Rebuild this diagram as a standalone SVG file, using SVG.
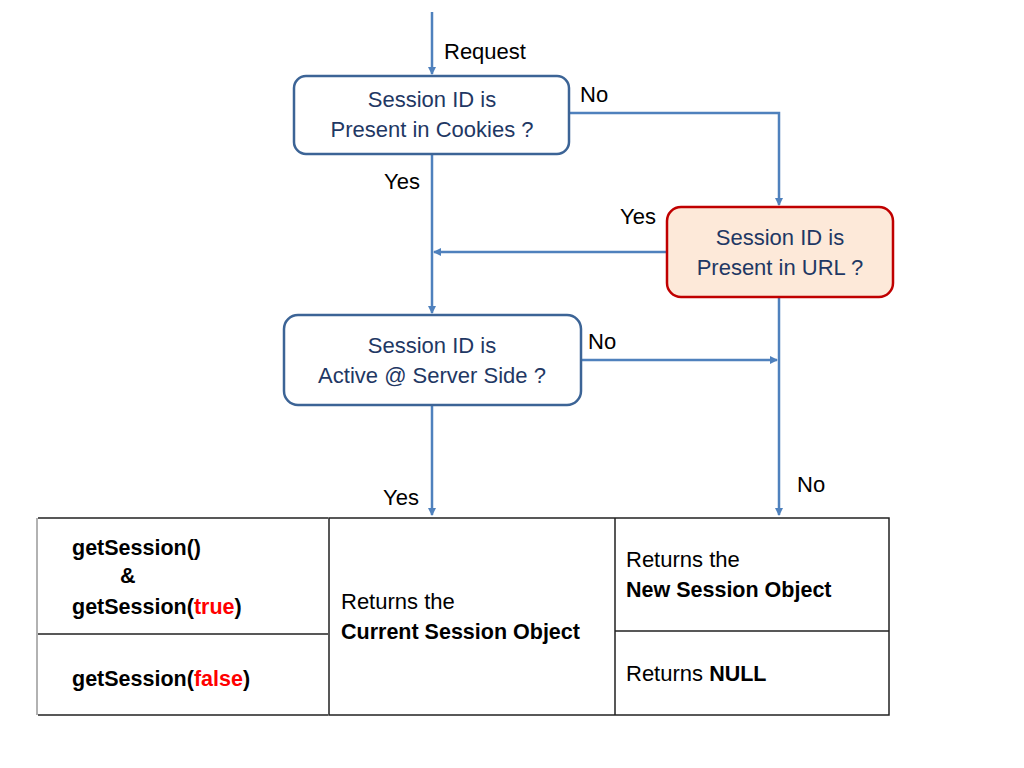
<svg xmlns="http://www.w3.org/2000/svg" width="1024" height="768" viewBox="0 0 1024 768">
<defs>
<marker id="arr" markerWidth="10" markerHeight="10" refX="7" refY="4" orient="auto" markerUnits="userSpaceOnUse">
<path d="M0,0 L8,4 L0,8 Z" fill="#4f81bd"/>
</marker>
<style>
text{font-family:"Liberation Sans",Arial,sans-serif;font-size:22px;}
.nt{fill:#1f3864;text-anchor:middle;}
.lb{fill:#000;}
.b{font-weight:bold;font-size:21.5px;}
.red{fill:#ff0000;}
.node{fill:#fff;stroke:#3c6496;stroke-width:2.5;}
.conn{fill:none;stroke:#4f81bd;stroke-width:2.5;}
.tbl{fill:none;stroke:#222;stroke-width:1.5;}
</style>
</defs>
<rect width="1024" height="768" fill="#fff"/>
<g id="connectors">
<path class="conn" d="M432,12 V74" marker-end="url(#arr)"/>
<path class="conn" d="M569,113 H779 V205" marker-end="url(#arr)"/>
<path class="conn" d="M667,252 H434" marker-end="url(#arr)"/>
<path class="conn" d="M432,154 V313" marker-end="url(#arr)"/>
<path class="conn" d="M581,360 H777" marker-end="url(#arr)"/>
<path class="conn" d="M779,297 V515" marker-end="url(#arr)"/>
<path class="conn" d="M432,405 V515" marker-end="url(#arr)"/>
<text class="lb" x="444" y="59">Request</text>
<text class="lb" x="580" y="102">No</text>
<text class="lb" x="384" y="189">Yes</text>
<text class="lb" x="620" y="224">Yes</text>
<text class="lb" x="588" y="349">No</text>
<text class="lb" x="797" y="492">No</text>
<text class="lb" x="383" y="505">Yes</text>
</g>
<g id="node-cookies">
<rect class="node" x="294" y="76" width="275" height="78" rx="12"/>
<text class="nt" x="432" y="107">Session ID is</text>
<text class="nt" x="432" y="137">Present in Cookies ?</text>
</g>
<g id="node-url">
<rect class="node" x="667" y="207" width="226" height="90" rx="14" style="fill:#fde9d9;stroke:#c00000"/>
<text class="nt" x="780" y="245">Session ID is</text>
<text class="nt" x="780" y="275">Present in URL ?</text>
</g>
<g id="node-active">
<rect class="node" x="284" y="315" width="297" height="90" rx="14"/>
<text class="nt" x="432" y="353">Session ID is</text>
<text class="nt" x="432" y="383">Active @ Server Side ?</text>
</g>
<g id="table-methods">
<path d="M38,518 H328 M38,634 H328 M38,715 H328" stroke="#222" stroke-width="1.5" fill="none"/>
<path d="M37,518 V715" stroke="#999" stroke-width="1.5" fill="none"/>
<text class="lb b" x="72" y="555">getSession()</text>
<text class="lb b" x="120" y="583">&amp;</text>
<text class="lb b" x="72" y="614">getSession(<tspan class="red">true</tspan>)</text>
<text class="lb b" x="72" y="686">getSession(<tspan class="red">false</tspan>)</text>
</g>
<g id="table-results">
<rect class="tbl" x="329" y="518" width="560" height="197"/>
<path class="tbl" d="M615,518 V715 M615,631 H889"/>
<text class="lb" x="341" y="609">Returns the</text>
<text class="lb b" x="341" y="639">Current Session Object</text>
<text class="lb" x="626" y="567">Returns the</text>
<text class="lb b" x="626" y="597">New Session Object</text>
<text class="lb" x="626" y="681">Returns <tspan class="b">NULL</tspan></text>
</g>
</svg>
